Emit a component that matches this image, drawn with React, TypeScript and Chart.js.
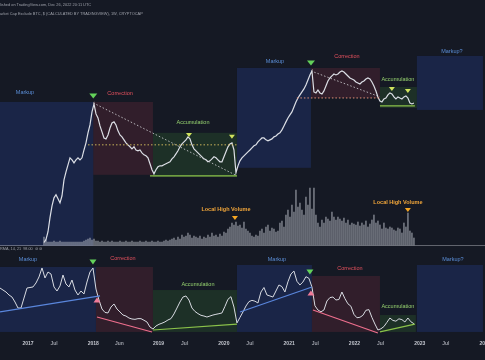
import React, { useEffect, useRef } from "react";
import { Chart, registerables } from "chart.js";

Chart.register(...registerables);

const BG = "#151924";
const FONT = "'Liberation Sans', Arial, sans-serif";

// ---------- time axis ----------
const xMinYear = 2016.571;
const xMaxYear = 2024.0;
const xTickValues = [2017, 2017.4, 2018, 2018.4, 2019, 2019.4, 2020, 2020.4, 2021, 2021.4, 2022, 2022.4, 2023, 2023.4, 2024];
const xTickLabels = ["2017", "Jul", "2018", "Jun", "2019", "Jul", "2020", "Jul", "2021", "Jul", "2022", "Jul", "2023", "Jul", "2024"];

// ---------- altcoin market cap (billion USD), ~11-day spacing ----------
const priceStartYear = 2017.245;
const priceStepYears = 0.030628;
const priceValues = [
  4.5, 5.0, 6.5, 10.5, 15.7, 20.6, 22.9, 20.0, 17.4, 22.1,
  38, 49.9, 63.4, 80.4, 75.1, 67.8, 75.1, 80.4, 75.1, 80.4,
  105, 134, 188, 246, 383, 503, 358, 312, 238, 194,
  158, 153, 175, 222, 263, 273, 246, 201, 175, 164,
  148, 134, 125, 117, 109, 117, 105, 102, 105, 95.3,
  89, 86, 80.4, 65.6, 53.5, 46.6, 53.5, 59.2, 61.2, 61.2,
  63.4, 65.6, 67.8, 70.2, 77.7, 83.2, 92.1, 102, 117, 129,
  138, 148, 164, 153, 125, 109, 102, 95.3, 89, 83.2,
  77.7, 75.1, 70.2, 72.6, 77.7, 83.2, 80.4, 75.1, 70.2, 70.2,
  83.2, 98.6, 117, 129, 134, 105, 48.3, 61.2, 72.6, 80.4,
  86, 92.1, 98.6, 105, 113, 121, 125, 138, 148, 158,
  158, 148, 143, 148, 153, 164, 169, 181, 188, 208,
  238, 273, 312, 346, 383, 454, 538, 616, 683, 756,
  837, 959, 1137, 1348, 1545, 756, 731, 809, 731, 706,
  782, 927, 1099, 1217, 1303, 1394, 1348, 1394, 1492, 1545,
  1492, 1394, 1303, 1217, 1176, 1137, 1062, 1027, 992, 1062,
  1099, 1176, 1217, 1176, 1062, 927, 782, 638, 556, 538,
  596, 616, 683, 731, 706, 638, 596, 638, 616, 596,
  638, 660, 616, 520, 503, 520,
];
// ---------- volume (billion USD), same dates ----------
const volumeValues = [
  16, 10, 6, 6, 6, 8, 6, 6, 8, 6,
  6, 6, 6, 6, 6, 6, 6, 6, 6, 6,
  8, 10, 12, 14, 10, 12, 8, 8, 6, 8,
  6, 6, 8, 6, 8, 6, 6, 6, 8, 6,
  6, 8, 6, 6, 8, 6, 6, 6, 8, 6,
  6, 8, 6, 6, 8, 6, 6, 8, 6, 6,
  8, 10, 8, 10, 12, 14, 10, 16, 12, 20,
  16, 18, 24, 20, 14, 18, 16, 14, 18, 12,
  16, 14, 20, 16, 24, 18, 20, 16, 22, 18,
  26, 24, 32, 36, 44, 40, 46, 38, 40, 34,
  46, 32, 28, 24, 18, 16, 20, 18, 28, 32,
  24, 36, 40, 28, 34, 32, 26, 28, 44, 48,
  36, 60, 70, 56, 80, 66, 110, 76, 84, 70,
  60, 96, 80, 114, 72, 114, 60, 44, 36, 50,
  44, 56, 52, 48, 66, 56, 50, 56, 52, 48,
  54, 44, 50, 40, 44, 42, 40, 46, 38, 44,
  40, 48, 36, 42, 50, 60, 44, 48, 40, 32,
  44, 34, 32, 36, 34, 30, 28, 34, 32, 24,
  44, 36, 64, 28, 24, 14,
];

// ---------- RMA oscillator (0-100), ~17-day spacing ----------
const oscStartYear = 2016.571;
const oscStepYears = 0.045942;
const oscValues = [
  54.4, 52.2, 50, 46.7, 44.4, 38.9, 32.2, 32.2, 43.3, 54.4,
  55, 55.6, 60, 66.7, 76.7, 65.6, 72.2, 70, 55.6, 51.1,
  56.7, 68.9, 58.9, 55.6, 63.3, 52.2, 46.7, 51.1, 47.8, 61.1,
  72.2, 76.7, 53.3, 41.1, 31.1, 27.3, 26.7, 33.3, 36.7, 31.1,
  27.8, 24.4, 23.3, 21.1, 20, 19.6, 20.4, 20.4, 18.6, 16.7,
  11.1, 8.9, 12.2, 14.1, 15.3, 16.8, 18.9, 20.4, 25.6, 32.2,
  38.9, 44.4, 45.6, 41.1, 32.2, 28.4, 26, 24.1, 23.3, 22.2,
  23.3, 24.4, 25.2, 25.9, 26.7, 34, 41.9, 44.8, 33.3, 15.6,
  21.7, 27.8, 34.4, 39.3, 40.7, 39.8, 37.8, 50, 55, 46.7,
  45.6, 44.4, 51.1, 57.8, 56, 50, 61.3, 70, 73.3, 61.9,
  57.8, 61.1, 67, 65.2, 55.6, 34.7, 30, 28, 30, 40,
  43.8, 44.4, 41.1, 41.7, 50, 42.7, 36.9, 34.2, 25.2, 21.4,
  21.9, 24.1, 29.7, 30.4, 21.8, 14.4, 7.8, 9.1, 11.6, 16.3,
  21.1, 18.4, 17.6, 20.2, 19.3, 16.7, 21.1, 16.9, 14.8,
];

// ---------- Wyckoff phases (price pane) ----------
const zoneNames = ["Markup", "Correction", "Accumulation", "Markup", "Correction", "Accumulation", "Markup?"];
const zoneStart = [2016.571, 2018.0, 2018.914, 2020.201, 2021.334, 2022.391, 2022.957];
const zoneEnd = [2018.0, 2018.914, 2020.201, 2021.334, 2022.391, 2022.957, 2023.968];
const zoneTop = [538, 538, 188, 1710, 1710, 896, 2573];
const zoneBottom = [4, 45.1, 42, 57.2, 616, 439, 410];
const zoneLabelYear = [2016.954, 2018.41, 2019.527, 2020.783, 2021.885, 2022.666, 2023.493];
const zoneLabelValue = [731, 706, 263, 2098, 2486, 1137, 2949];

// guide lines (price pane)
const guideFromYear = [2018.0, 2017.919, 2018.868, 2021.334, 2021.119, 2022.391];
const guideFromValue = [520, 125, 43.6, 1545, 616, 470];
const guideToYear = [2020.17, 2020.201, 2020.201, 2022.391, 2022.391, 2022.926];
const guideToValue = [45.1, 125, 43.6, 638, 616, 470];
const guideKinds = ["dotWhite", "dotYellow", "green", "dotWhite", "dotPink", "green"];

// top markers (price pane)
const peakMarkYear = [2018.0, 2019.466, 2020.124, 2021.334, 2022.574, 2022.819];
const peakMarkValue = [660, 175, 164, 2027, 837, 782];
const peakMarkKind = ["top", "acc", "acc", "top", "acc", "acc"];

// volume markers
const volMarkYear = [2020.17, 2022.819];
const volMarkValue = [54, 70];
const volLabelYear = [2020.032, 2022.666];
const volLabelValue = [72, 86];
const volLabelText = ["Local High Volume", "Local High Volume"];

// ---------- oscillator pane phases ----------
const oscZoneStart = [2016.571, 2018.041, 2018.914, 2020.201, 2021.349, 2022.391, 2022.957];
const oscZoneEnd = [2018.041, 2018.914, 2020.201, 2021.349, 2022.391, 2022.941, 2023.968];
const oscZoneTop = [77.8, 77.8, 52.2, 80, 67.8, 24.4, 80];
const oscZoneBottom = [5.6, 5.6, 5.6, 5.6, 5.6, 5.6, 5.6];
const oscLabelYear = [2017.0, 2018.455, 2019.603, 2020.813, 2021.931, 2022.666, 2023.508];
const oscLabelValue = [85.6, 86.7, 58.9, 85.6, 75.6, 34.4, 85.6];

const oscLineFromYear = [2016.571, 2018.057, 2018.914, 2020.247, 2021.365, 2022.391];
const oscLineFromValue = [27.8, 22.2, 7.8, 27.8, 30, 5.6];
const oscLineToYear = [2018.103, 2018.899, 2020.201, 2021.349, 2022.36, 2022.926];
const oscLineToValue = [45.6, 5.6, 14.4, 55.6, 4.4, 14.4];
const oscLineKind = ["Markup", "Correction", "Accumulation", "Markup", "Correction", "Accumulation"];

const oscMarkYear = [2017.995, 2018.057, 2021.318, 2021.334];
const oscMarkValue = [83.3, 41.1, 72.2, 48.9];
const oscMarkKind = ["down", "up", "down", "up"];

// ---------- styling helpers ----------
const zoneFill = (n: string) =>
  n.startsWith("Markup") ? "rgba(45,85,205,0.21)" : n === "Correction" ? "rgba(200,60,80,0.16)" : "rgba(80,180,60,0.15)";
const zoneText = (n: string) =>
  n.startsWith("Markup") ? "#5b8ed8" : n === "Correction" ? "#e5515e" : "#95d16f";
const lineColor = (n: string) =>
  n.startsWith("Markup") ? "#5a86dc" : n === "Correction" ? "#ef6f8e" : "#8bc34a";

function tri(ctx: CanvasRenderingContext2D, cx: number, cy: number, w: number, h: number, down: boolean, color: string) {
  ctx.beginPath();
  if (down) {
    ctx.moveTo(cx - w / 2, cy - h / 2);
    ctx.lineTo(cx + w / 2, cy - h / 2);
    ctx.lineTo(cx, cy + h / 2);
  } else {
    ctx.moveTo(cx - w / 2, cy + h / 2);
    ctx.lineTo(cx + w / 2, cy + h / 2);
    ctx.lineTo(cx, cy - h / 2);
  }
  ctx.closePath();
  ctx.fillStyle = color;
  ctx.fill();
}

const topAnnotations = {
  id: "topAnnotations",
  beforeDatasetsDraw(chart: any) {
    const { ctx, scales } = chart;
    const x = scales.x, y = scales.y, yv = scales.yVol;
    ctx.save();
    zoneNames.forEach((n, i) => {
      const x1 = x.getPixelForValue(zoneStart[i]);
      const x2 = x.getPixelForValue(zoneEnd[i]);
      const y1 = y.getPixelForValue(zoneTop[i]);
      const y2 = y.getPixelForValue(zoneBottom[i]);
      ctx.fillStyle = zoneFill(n);
      ctx.fillRect(x1, y1, x2 - x1, y2 - y1);
    });
    const yb = Math.round(yv.getPixelForValue(0)) + 0.5;
    ctx.strokeStyle = "rgba(190,193,200,0.45)";
    ctx.lineWidth = 1;
    ctx.beginPath();
    ctx.moveTo(0, yb);
    ctx.lineTo(chart.width, yb);
    ctx.stroke();
    ctx.restore();
  },
  afterDatasetsDraw(chart: any) {
    const { ctx, scales } = chart;
    const x = scales.x, y = scales.y, yv = scales.yVol;
    ctx.save();
    guideKinds.forEach((k, i) => {
      ctx.beginPath();
      ctx.lineWidth = 1;
      if (k === "green") {
        ctx.setLineDash([]);
        ctx.strokeStyle = "#8bc34a";
        ctx.lineWidth = 1.3;
      } else {
        ctx.setLineDash([1.5, 2]);
        ctx.strokeStyle = k === "dotWhite" ? "rgba(215,215,220,0.8)" : k === "dotYellow" ? "#c8b25a" : "#e39279";
      }
      ctx.moveTo(x.getPixelForValue(guideFromYear[i]), y.getPixelForValue(guideFromValue[i]));
      ctx.lineTo(x.getPixelForValue(guideToYear[i]), y.getPixelForValue(guideToValue[i]));
      ctx.stroke();
    });
    ctx.setLineDash([]);
    peakMarkKind.forEach((k, i) => {
      const cx = x.getPixelForValue(peakMarkYear[i]);
      const cy = y.getPixelForValue(peakMarkValue[i]);
      if (k === "top") tri(ctx, cx, cy, 8, 5, true, "#63d15a");
      else tri(ctx, cx, cy, 6, 4, true, "#cfe25e");
    });
    volMarkYear.forEach((t, i) => {
      tri(ctx, x.getPixelForValue(t), yv.getPixelForValue(volMarkValue[i]), 6, 4, true, "#f5a623");
    });
    ctx.textAlign = "center";
    ctx.textBaseline = "middle";
    ctx.font = `bold 5.5px ${FONT}`;
    ctx.fillStyle = "#f0a53a";
    volLabelText.forEach((s, i) => {
      ctx.fillText(s, x.getPixelForValue(volLabelYear[i]), yv.getPixelForValue(volLabelValue[i]));
    });
    ctx.font = `5.5px ${FONT}`;
    zoneNames.forEach((n, i) => {
      ctx.fillStyle = zoneText(n);
      ctx.fillText(n, x.getPixelForValue(zoneLabelYear[i]), y.getPixelForValue(zoneLabelValue[i]));
    });
    ctx.restore();
  },
};

const oscAnnotations = {
  id: "oscAnnotations",
  beforeDatasetsDraw(chart: any) {
    const { ctx, scales } = chart;
    const x = scales.x, y = scales.y;
    ctx.save();
    zoneNames.forEach((n, i) => {
      const x1 = x.getPixelForValue(oscZoneStart[i]);
      const x2 = x.getPixelForValue(oscZoneEnd[i]);
      const y1 = y.getPixelForValue(oscZoneTop[i]);
      const y2 = y.getPixelForValue(oscZoneBottom[i]);
      ctx.fillStyle = zoneFill(n);
      ctx.fillRect(x1, y1, x2 - x1, y2 - y1);
    });
    ctx.restore();
  },
  afterDatasetsDraw(chart: any) {
    const { ctx, scales } = chart;
    const x = scales.x, y = scales.y;
    ctx.save();
    oscLineKind.forEach((k, i) => {
      ctx.beginPath();
      ctx.strokeStyle = lineColor(k);
      ctx.lineWidth = 1.2;
      ctx.moveTo(x.getPixelForValue(oscLineFromYear[i]), y.getPixelForValue(oscLineFromValue[i]));
      ctx.lineTo(x.getPixelForValue(oscLineToYear[i]), y.getPixelForValue(oscLineToValue[i]));
      ctx.stroke();
    });
    oscMarkKind.forEach((k, i) => {
      const cx = x.getPixelForValue(oscMarkYear[i]);
      const cy = y.getPixelForValue(oscMarkValue[i]);
      if (k === "down") tri(ctx, cx, cy, 7, 5, true, "#63d15a");
      else tri(ctx, cx, cy, 7, 5, false, "#f07a98");
    });
    ctx.textAlign = "center";
    ctx.textBaseline = "middle";
    ctx.font = `5.5px ${FONT}`;
    zoneNames.forEach((n, i) => {
      ctx.fillStyle = zoneText(n);
      ctx.fillText(n, x.getPixelForValue(oscLabelYear[i]), y.getPixelForValue(oscLabelValue[i]));
    });
    ctx.restore();
  },
};

export default function App() {
  const topRef = useRef<HTMLCanvasElement | null>(null);
  const botRef = useRef<HTMLCanvasElement | null>(null);

  useEffect(() => {
    const priceData = priceValues.map((v, i) => ({ x: priceStartYear + i * priceStepYears, y: v }));
    const volData = volumeValues.map((v, i) => ({ x: priceStartYear + i * priceStepYears, y: v }));
    const oscData = oscValues.map((v, i) => ({ x: oscStartYear + i * oscStepYears, y: v }));

    const top = new Chart(topRef.current as HTMLCanvasElement, {
      type: "line",
      data: {
        datasets: [
          {
            type: "line",
            data: priceData,
            yAxisID: "y",
            borderColor: "#dcdfe6",
            borderWidth: 1.2,
            pointRadius: 0,
            tension: 0,
            order: 0,
          } as any,
          {
            type: "bar",
            data: volData,
            yAxisID: "yVol",
            backgroundColor: "rgba(180,184,194,0.52)",
            barThickness: 1.2,
            order: 1,
          } as any,
        ],
      },
      options: {
        animation: false,
        responsive: false,
        events: [],
        layout: { padding: 0 },
        scales: {
          x: { type: "linear", min: xMinYear, max: xMaxYear, display: false, offset: false, grid: { offset: false } },
          y: { type: "logarithmic", min: 4, max: 17270, display: false },
          yVol: { type: "linear", min: -2, max: 490, display: false },
        },
        plugins: { legend: { display: false }, tooltip: { enabled: false } },
      } as any,
      plugins: [topAnnotations as any],
    });

    const bot = new Chart(botRef.current as HTMLCanvasElement, {
      type: "line",
      data: {
        datasets: [
          {
            data: oscData,
            borderColor: "#d8dbe2",
            borderWidth: 1,
            pointRadius: 0,
            tension: 0,
          } as any,
        ],
      },
      options: {
        animation: false,
        responsive: false,
        events: [],
        layout: { padding: { top: 1, bottom: 9, left: 0, right: 0 } },
        scales: {
          x: {
            type: "linear",
            min: xMinYear,
            max: xMaxYear,
            offset: false,
            grid: { display: false, drawTicks: false },
            border: { display: false },
            afterBuildTicks: (s: any) => {
              s.ticks = xTickValues.map((v) => ({ value: v }));
            },
            afterFit: (s: any) => {
              s.paddingLeft = 0;
              s.paddingRight = 0;
            },
            ticks: {
              autoSkip: false,
              maxRotation: 0,
              minRotation: 0,
              padding: 4,
              color: (c: any) => (/^\d/.test(xTickLabels[c.index] || "") ? "#c3c6ce" : "#9a9da6"),
              font: { size: 5, family: FONT, weight: "bold" },
              callback: (_v: any, idx: number) => xTickLabels[idx],
            },
          },
          y: { min: 0, max: 100, display: false },
        },
        plugins: { legend: { display: false }, tooltip: { enabled: false } },
      } as any,
      plugins: [oscAnnotations as any],
    });

    return () => {
      top.destroy();
      bot.destroy();
    };
  }, []);

  const textStyle: React.CSSProperties = {
    position: "absolute",
    left: 0,
    fontFamily: FONT,
    fontSize: "3.9px",
    color: "#9ea1aa",
    whiteSpace: "nowrap",
    lineHeight: 1,
  };

  return (
    <div style={{ position: "fixed", left: 0, top: 0, width: 485, height: 360, background: BG, overflow: "hidden" }}>
      <div style={{ position: "absolute", left: 0, top: 0, width: 485, height: 246 }}>
        <canvas ref={topRef} width={485} height={246} style={{ display: "block" }} />
      </div>
      <div style={{ position: "absolute", left: 0, top: 246, width: 485, height: 114 }}>
        <canvas ref={botRef} width={485} height={114} style={{ display: "block" }} />
      </div>
      <div style={{ ...textStyle, top: 3 }}>lished on TradingView.com, Dec 26, 2022 20:11 UTC</div>
      <div style={{ ...textStyle, top: 12 }}>arket Cap Exclude BTC, $ (CALCULATED BY TRADINGVIEW), 1W, CRYPTOCAP</div>
      <div style={{ ...textStyle, top: 248, fontSize: "3.8px" }}>RMA, 14, 21&nbsp;&nbsp;98.00&nbsp;&nbsp;⊘&nbsp;⊘</div>
    </div>
  );
}
